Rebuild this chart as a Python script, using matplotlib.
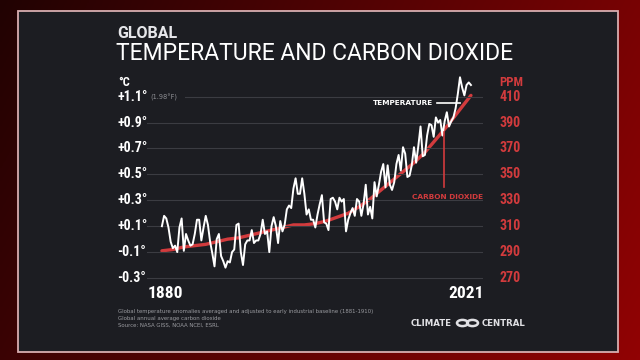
import numpy as np
import matplotlib
matplotlib.use("Agg")
import matplotlib.pyplot as plt
from matplotlib import transforms
from matplotlib.patches import Rectangle, Circle
from matplotlib.lines import Line2D

# ---- data ----
years = list(range(1880, 2022))
temp = [0.10, 0.18, 0.16, 0.09, -0.02, -0.07, -0.05, -0.10, 0.09, 0.16,
        -0.09, 0.04, -0.01, -0.05, -0.04, 0.04, 0.15, 0.15, -0.01, 0.09,
        0.18, 0.11, -0.02, -0.11, -0.21, 0.00, 0.04, -0.13, -0.17, -0.22,
        -0.17, -0.18, -0.10, -0.08, 0.11, 0.12, -0.10, -0.20, -0.04, -0.01,
        -0.01, 0.07, -0.03, -0.01, -0.01, 0.04, 0.15, 0.04, 0.06, -0.10,
        0.10, 0.17, 0.10, -0.03, 0.14, 0.06, 0.11, 0.23, 0.26, 0.24,
        0.39, 0.47, 0.35, 0.35, 0.47, 0.35, 0.19, 0.23, 0.15, 0.15,
        0.09, 0.19, 0.27, 0.34, 0.13, 0.12, 0.07, 0.31, 0.32, 0.29,
        0.23, 0.32, 0.29, 0.31, 0.06, 0.15, 0.20, 0.24, 0.18, 0.31,
        0.29, 0.18, 0.27, 0.42, 0.19, 0.25, 0.16, 0.44, 0.33, 0.42,
        0.52, 0.58, 0.40, 0.57, 0.42, 0.38, 0.44, 0.58, 0.65, 0.53,
        0.71, 0.66, 0.48, 0.49, 0.57, 0.71, 0.59, 0.72, 0.87, 0.64,
        0.65, 0.80, 0.89, 0.88, 0.79, 0.94, 0.90, 0.92, 0.80, 0.91,
        0.98, 0.87, 0.91, 0.94, 1.01, 1.12, 1.25, 1.17, 1.11, 1.19,
        1.21, 1.19]
co2_years = [1880, 1885, 1890, 1895, 1900, 1905, 1910, 1915, 1920, 1925,
             1930, 1935, 1940, 1945, 1950, 1955, 1960, 1965, 1970, 1975,
             1980, 1985, 1990, 1995, 2000, 2005, 2010, 2015, 2021]
co2 = [291, 292, 294, 295, 296, 298, 300, 301, 303, 305,
       307, 309, 311, 311, 312, 314, 317, 320, 325, 331,
       338, 345, 352, 359, 367, 377, 387, 398, 411]
temp_ticks = [1.1, 0.9, 0.7, 0.5, 0.3, 0.1, -0.1, -0.3]
temp_labels = ["+1.1°", "+0.9°", "+0.7°", "+0.5°", "+0.3°", "+0.1°", "-0.1°", "-0.3°"]
ppm_ticks = [410, 390, 370, 350, 330, 310, 290, 270]

W, H = 640, 360
def fx(px):
    return px / W
def fy(py):
    return 1 - py / H

RED = "#d23b3d"
COND = ["Roboto Condensed", "Liberation Sans Narrow", "DejaVu Sans Condensed", "Roboto", "DejaVu Sans"]
ck = dict(family=COND, fontstretch="condensed", fontweight="bold")

fig = plt.figure(figsize=(6.4, 3.6), dpi=100)

# background gradient (dark maroon)
bg = fig.add_axes([0, 0, 1, 1])
gx = np.linspace(0, 1, 200)[None, :]
gy = np.linspace(0, 1, 120)[:, None]
r = 0.13 + 0.34 * gx + 0.10 * gy
img = np.dstack([r, 0.01 + 0 * r, 0.01 + 0.01 * r])
bg.imshow(np.clip(img, 0, 1), aspect="auto", extent=[0, 1, 0, 1], origin="upper")
bg.set_xlim(0, 1)
bg.set_ylim(0, 1)
bg.axis("off")
bg.add_patch(Rectangle((fx(18), fy(352)), fx(600), 341 / H, facecolor="#1c1d22",
                       edgecolor="#d8aeb0", lw=1.3))

# main axes
ax = fig.add_axes([fx(147), fy(280.6), fx(483 - 147), (280.6 - 68.2) / H])
ax.set_xlim(1873.2, 2026.5)
ax.set_ylim(-0.32, 1.32)
ax.axis("off")
for t in temp_ticks:
    start = (185 - 147) / 336 if t == 1.1 else 0
    ax.axhline(t, xmin=start, xmax=1, color="#3b3c42", lw=0.8, zorder=1)

ax2 = ax.twinx()
ax2.set_ylim(410 + (-0.32 - 1.1) * 100, 410 + (1.32 - 1.1) * 100)
ax2.axis("off")
ax2.plot(co2_years, co2, color=RED, lw=2.4, solid_capstyle="round", zorder=3)
ax.plot(years, temp, color="white", lw=1.4, zorder=2)
ax.set_zorder(ax2.get_zorder() + 1)
ax.patch.set_visible(False)

# tick labels
tl = transforms.blended_transform_factory(fig.transFigure, ax.transData)
for v, s in zip(temp_ticks, temp_labels):
    fig.text(fx(117), v, s, transform=tl, color="white", fontsize=10,
             va="center", ha="left", **ck)
tr = transforms.blended_transform_factory(fig.transFigure, ax2.transData)
for v in ppm_ticks:
    fig.text(fx(499), v, str(v), transform=tr, color=RED, fontsize=10,
             va="center", ha="left", **ck)
fig.text(fx(118), fy(82), "°C", color="white", fontsize=9, va="center", ha="left", **ck)
fig.text(fx(499), fy(82), "PPM", color=RED, fontsize=9, va="center", ha="left", **ck)
fig.text(fx(150), fy(97), "(1.98°F)", color="#8d8e93", fontsize=4.8, va="center", ha="left")
fig.text(fx(165), fy(293), "1880", color="white", fontsize=12.5, va="center", ha="center", **ck)
fig.text(fx(466), fy(293), "2021", color="white", fontsize=12.5, va="center", ha="center", **ck)

# titles
fig.text(fx(117), fy(33), "GLOBAL", color="#e6e6ea", fontsize=11.5, fontweight="bold",
         family="Roboto", va="center", ha="left")
fig.text(fx(116), fy(53), "TEMPERATURE AND CARBON DIOXIDE", color="white", fontsize=16.5,
         family="Roboto", va="center", ha="left")

# series labels
fig.text(fx(433), fy(103), "TEMPERATURE", color="white", fontsize=5.3, fontweight="bold",
         va="center", ha="right")
fig.add_artist(Line2D([fx(437), fx(460)], [fy(103), fy(103)], color="white", lw=1.2))
fig.text(fx(483), fy(197), "CARBON DIOXIDE", color=RED, fontsize=5.3, fontweight="bold",
         va="center", ha="right")
fig.add_artist(Line2D([fx(444), fx(444)], [fy(187), fy(132)], color=RED, lw=1.2))

# footnote
notes = ["Global temperature anomalies averaged and adjusted to early industrial baseline (1881-1910)",
         "Global annual average carbon dioxide",
         "Source: NASA GISS, NOAA NCEI, ESRL"]
for i, s in enumerate(notes):
    fig.text(fx(118), fy(312 + 6.5 * i), s, color="#9a9ba0", fontsize=3.9,
             va="center", ha="left")

# logo
fig.text(fx(452), fy(323), "CLIMATE", color="#e0e0e4", fontsize=6.2, fontweight="bold",
         va="center", ha="right")
fig.text(fx(482), fy(323), "CENTRAL", color="#e0e0e4", fontsize=6.2, fontweight="bold",
         va="center", ha="left")
for cxp in (462.5, 472.5):
    fig.add_artist(Circle((fx(cxp), fy(323)), 5.5 / W, transform=fig.transFigure,
                          facecolor="none", edgecolor="#e0e0e4", lw=1.8))

fig.savefig("out.png", dpi=100, facecolor=fig.get_facecolor())
